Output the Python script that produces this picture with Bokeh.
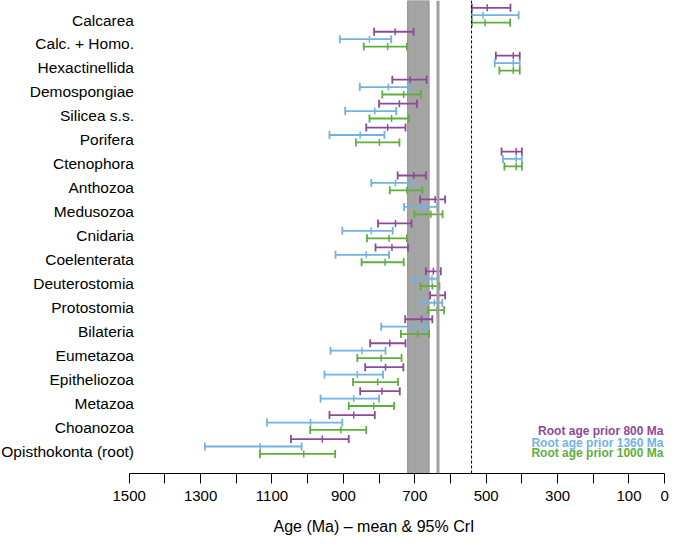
import math
from bokeh.plotting import figure
from bokeh.models import Range1d, FixedTicker, Span, Title, ColumnDataSource
from bokeh.core.properties import value
from bokeh.embed import file_html
from bokeh.resources import INLINE

taxa = ["Calcarea", "Calc. + Homo.", "Hexactinellida", "Demospongiae", "Silicea s.s.",
        "Porifera", "Ctenophora", "Anthozoa", "Medusozoa", "Cnidaria", "Coelenterata",
        "Deuterostomia", "Protostomia", "Bilateria", "Eumetazoa", "Epitheliozoa",
        "Metazoa", "Choanozoa", "Opisthokonta (root)"]

series_names = ["Root age prior 800 Ma", "Root age prior 1360 Ma", "Root age prior 1000 Ma"]
series_colors = ["#8C4A9A", "#72B2E2", "#5DAF3C"]

# oldest bound, mean, youngest bound (Ma), top row first
p800_lo = [540, 814, 473, 763, 800, 836, 457, 748, 685, 803, 810, 669, 657, 727, 825, 839, 853, 939, 1047]
p800_mean = [497, 755, 424, 713, 743, 776, 416, 703, 643, 754, 764, 648, 634, 681, 770, 782, 792, 871, 959]
p800_hi = [432, 703, 406, 667, 694, 726, 400, 669, 615, 709, 719, 627, 615, 651, 726, 732, 742, 812, 885]

p1360_lo = [540, 910, 476, 854, 895, 939, 453, 822, 730, 903, 922, 705, 682, 794, 936, 953, 964, 1114, 1288]
p1360_mean = [509, 827, 424, 774, 812, 853, 416, 754, 673, 822, 836, 652, 645, 675, 848, 861, 871, 992, 1133]
p1360_hi = [409, 766, 406, 715, 752, 785, 400, 709, 637, 762, 772, 634, 623, 666, 782, 789, 800, 903, 1017]

p1000_lo = [540, 843, 463, 791, 827, 865, 449, 770, 701, 834, 849, 684, 663, 739, 861, 873, 885, 993, 1134]
p1000_mean = [503, 776, 424, 731, 765, 799, 416, 722, 655, 772, 783, 651, 638, 692, 794, 804, 815, 907, 1011]
p1000_hi = [433, 722, 406, 683, 717, 743, 400, 679, 622, 722, 731, 631, 618, 660, 737, 747, 758, 836, 923]

tick_values = list(range(0, 1600, 100))
tick_labels = {1500: "1500", 1300: "1300", 1100: "1100", 900: "900", 700: "700",
               500: "500", 300: "300", 100: "100", 0: "0"}

glaciation_band = (720, 660)
marinoan_line = 635
cambrian_line = 541

FONT = "Liberation Sans"
Y0, Y1 = -1.127, 18.614

p = figure(width=675, height=549, output_backend="svg", toolbar_location=None,
           x_range=Range1d(1860.5, -30.3), y_range=Range1d(Y0, Y1),
           y_axis_location=None, min_border_left=0, min_border_right=0,
           min_border_top=0, min_border_bottom=76)
p.outline_line_color = None
p.xgrid.visible = False
p.ygrid.visible = False
p.background_fill_color = "white"
p.border_fill_color = "white"

# grey band and line
p.quad(left=[glaciation_band[0]], right=[glaciation_band[1]], bottom=[Y0], top=[Y1],
       fill_color="#A4A4A4", line_color="#8E8E8E", line_width=1)
p.add_layout(Span(location=marinoan_line, dimension="height", line_color="#A0A0A0", line_width=3))
p.add_layout(Span(location=cambrian_line, dimension="height", line_color="black",
                  line_width=1, line_dash="3 2"))

n = len(taxa)
row_y = [n - 1 - i for i in range(n)]
offsets = [0.31, 0.0, -0.31]
all_series = [(p800_lo, p800_mean, p800_hi), (p1360_lo, p1360_mean, p1360_hi),
              (p1000_lo, p1000_mean, p1000_hi)]

for (lo, mean, hi), col, off in zip(all_series, series_colors, offsets):
    ys = [y + off for y in row_y]
    src = ColumnDataSource(dict(lo=lo, mean=mean, hi=hi, y=ys))
    p.segment(x0="lo", x1="hi", y0="y", y1="y", source=src, line_color=col, line_width=1.8)
    p.scatter(x="lo", y="y", source=src, marker="dash", angle=math.pi / 2, size=8,
              line_color=col, line_width=1.8)
    p.scatter(x="hi", y="y", source=src, marker="dash", angle=math.pi / 2, size=8,
              line_color=col, line_width=1.8)
    p.scatter(x="mean", y="y", source=src, marker="dash", angle=math.pi / 2, size=7,
              line_color=col, line_width=1.5)

# taxon labels
p.text(x=[1486.6] * n, y=[y - 0.2 for y in row_y], text=taxa, text_align="right",
       text_baseline="middle", text_font=value(FONT), text_font_size="15.5px",
       text_color="black")

# legend texts
leg_y = [0.639, 0.154, -0.28]
p.text(x=[3.4] * 3, y=leg_y, text=series_names, text_align="right", text_baseline="middle",
       text_font=value(FONT), text_font_size="12px", text_font_style="bold",
       text_color=series_colors)

# x axis
ax = p.xaxis[0]
ax.bounds = (0, 1500)
ax.ticker = FixedTicker(ticks=tick_values)
ax.major_label_overrides = {t: tick_labels.get(t, "") for t in tick_values}
ax.major_tick_out = 10
ax.major_tick_in = 0
ax.minor_tick_out = 0
ax.minor_tick_in = 0
ax.axis_line_color = "black"
ax.axis_line_width = 1
ax.major_tick_line_color = "black"
ax.major_label_standoff = 7
ax.major_label_text_font = FONT
ax.major_label_text_font_size = "15px"
ax.major_label_text_color = "black"

p.add_layout(Title(text="Age (Ma) \u2013 mean & 95% CrI", align="left", offset=273,
                   standoff=25, text_font=FONT, text_font_size="16px",
                   text_font_style="normal", text_color="black"), "below")

open("out.html", "w").write(file_html(p, INLINE))
